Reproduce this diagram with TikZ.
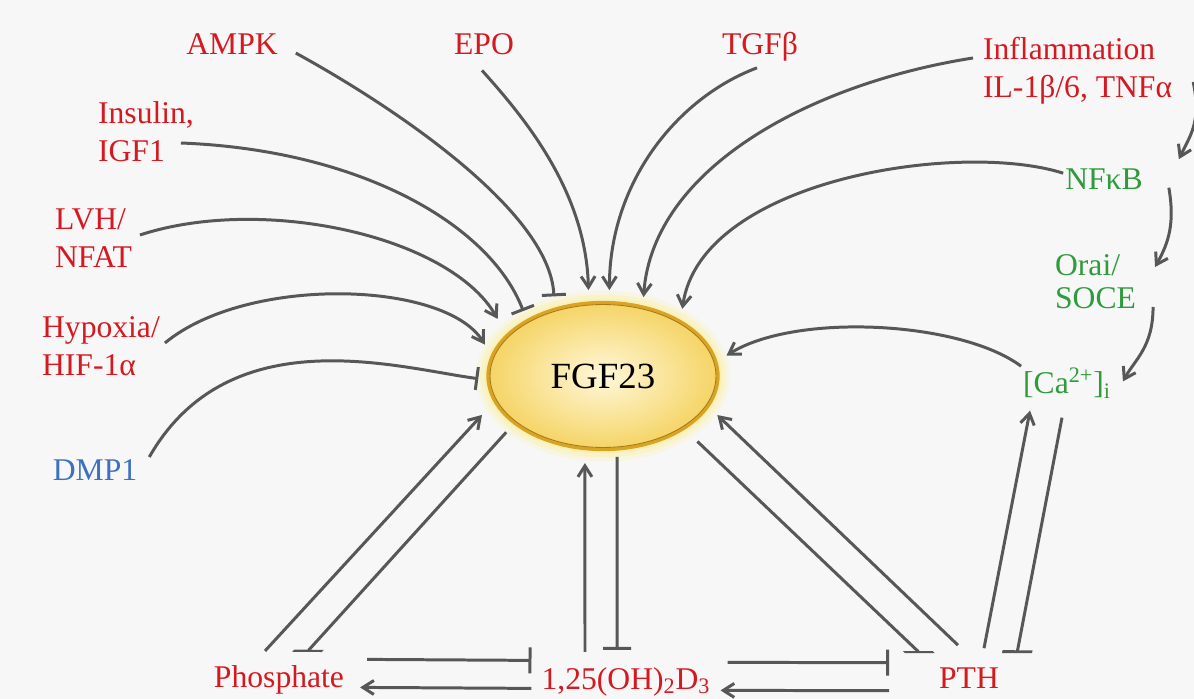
\documentclass[tikz,border=0pt]{standalone}
\usepackage{fontspec}
\setmainfont{Liberation Serif}
\usetikzlibrary{arrows.meta,shapes.geometric}
\definecolor{labred}{HTML}{D41920}
\definecolor{labgreen}{HTML}{2E9B3C}
\definecolor{labblue}{HTML}{3F6FBF}
\definecolor{wire}{HTML}{575757}
\definecolor{gold}{HTML}{D9A423}
\definecolor{ocher}{HTML}{A87A18}
\definecolor{fgfin}{HTML}{FFF8DA}
\definecolor{fgfout}{HTML}{F5D465}
\definecolor{glow}{HTML}{FFF08A}
\definecolor{paper}{HTML}{F7F7F7}
\begin{document}
\begin{tikzpicture}[x=0.02cm,y=-0.02cm,
  lab/.style={inner sep=1pt,font=\fontsize{18}{21.6}\selectfont},
  redlab/.style={lab,text=labred},
  greenlab/.style={lab,text=labgreen},
  bluelab/.style={lab,text=labblue},
  act/.style={wire,line width=1.7pt,-{Straight Barb[length=2.2mm,width=2.8mm]}},
  inh/.style={wire,line width=1.7pt,-{Bar[width=#1]}},
  inh/.default=4.8mm,
  hinh/.style 2 args={wire,line width=1.7pt,-{Bar[width=#1,slant=#2]}}]
  % pixel grid of the figure, y pointing down
  \fill[paper] (0,0) rectangle (1194,699);
  \useasboundingbox (0,0) rectangle (1194,699);
  % halo and FGF23
  \foreach \g/\o in {12/0.18,8/0.25,4/0.35}
    \fill[glow,opacity=\o] (603,376) ellipse [x radius=2.3cm+\g*0.02cm, y radius=1.47cm+\g*0.02cm];
  \node[ellipse,minimum width=4.6cm,minimum height=2.94cm,inner sep=0pt,outer sep=0pt,
    draw=gold,line width=1.9pt,inner color=fgfin,outer color=fgfout,
    font=\fontsize{21}{25}\selectfont] (fgf) at (603,376) {FGF23};
  \draw[ocher,line width=0.5pt] (fgf.center) ellipse [x radius=2.26cm, y radius=1.43cm];
  % labels
  \node[redlab,anchor=base] (ampk) at (232,55) {AMPK};
  \node[redlab,anchor=base] (epo) at (484,55) {EPO};
  \node[redlab,anchor=base] (tgfb) at (760,55) {TGFβ};
  \node[redlab,align=left,anchor=west] (infl) at (981,71) {Inflammation\\IL-1β/6, TNFα};
  \node[redlab,align=left,anchor=west] (ins) at (96,132) {Insulin,\\IGF1};
  \node[redlab,align=left,anchor=west] (lvh) at (53,238) {LVH/\\NFAT};
  \node[redlab,align=left,anchor=west] (hyp) at (40,346) {Hypoxia/\\HIF-1α};
  \node[bluelab,anchor=base] (dmp) at (95,480) {DMP1};
  \node[greenlab,anchor=base] (nfkb) at (1104,190) {NFκB};
  \node[greenlab,align=left,anchor=west] (orai) at (1053,282) {Orai/\\[-3pt]SOCE};
  \node[greenlab,anchor=base] (ca) at (1067,394) {[Ca\textsuperscript{2+}]\textsubscript{i}};
  \node[redlab,anchor=base] (phos) at (279,687) {Phosphate};
  \node[redlab,anchor=base] (d3) at (626,689) {1,25(OH)\textsubscript{2}D\textsubscript{3}};
  \node[redlab,anchor=base] (pth) at (969,688) {PTH};
  % inputs from the left and top
  \draw[inh,shorten >=0.26cm] ([shift={(16,8.5)}]ampk.east) .. controls +(95,52) and +(-5,-99) .. (fgf.126);
  \draw[inh,shorten >=0.21cm] ([shift={(-15,11)}]ins.east) .. controls +(180,7) and +(-37,-96) .. (fgf.144);
  \draw[act,shorten >=0.38cm] ([shift={(6,-3)}]lvh.east) .. controls +(122,-40) and +(-58,-100) .. (fgf.157);
  \draw[act,shorten >=0.28cm] ([shift={(3,-3)}]hyp.east) .. controls +(82,-68) and +(-47,-76) .. (fgf.170);
  \draw[inh=4.6mm,shorten >=0.2cm] ([shift={(10,0)}]dmp.north east) .. controls +(80,-140) and +(-90,-12) .. (fgf.182);
  \draw[act,shorten >=0.26cm] ([shift={(-2,13)}]epo.south) .. controls +(45,50) and +(-3,-110) .. (fgf.101);
  \draw[act,shorten >=0.25cm] ([shift={(-3,4)}]tgfb.south) .. controls +(-80,30) and +(0,-120) .. (fgf.85);
  \draw[act,shorten >=0.2cm] ([shift={(-8,-13)}]infl.west) .. controls +(-160,25) and +(10,-140) .. (fgf.60);
  \draw[act,shorten >=0.26cm] ([shift={(0,6)}]nfkb.north west) .. controls +(-104,-33) and +(20,-142) .. (fgf.35);
  % right hand cascade
  \draw[act] ([shift={(19,11)}]infl.east) .. controls +(8,40) and +(12,-25) .. ([shift={(34,-8)}]nfkb.north east);
  \draw[act] ([shift={(24,8)}]nfkb.east) .. controls +(6,35) and +(14,-25) .. ([shift={(17,-15)}]orai.east);
  \draw[act] ([shift={(15,25)}]orai.east) .. controls +(0,40) and +(12,-22) .. ([shift={(10,-2)}]ca.east);
  \draw[act,shorten >=0.25cm] (ca.north west) .. controls +(-60,-45) and +(80,-50) .. (fgf.7);
  % feedback loops at the bottom
  \draw[act,shorten >=0.38cm] ([shift={(-14,-12)}]phos.north) -- (fgf.193);
  \draw[hinh={4.4mm}{-0.9},shorten <=0.25cm] (fgf.208) -- ([shift={(28,-11)}]phos.north);
  \draw[act,shorten >=0.29cm] ([shift={(-41,-13)}]d3.north) -- (fgf.256);
  \draw[inh=5.6mm,shorten <=0.16cm] (fgf.281) -- ([shift={(-9,-15)}]d3.north);
  \draw[act,shorten >=0.26cm] ([shift={(-11,-20)}]pth.north) -- (fgf.344);
  \draw[hinh={4.1mm}{1.05},shorten <=0.38cm] (fgf.327) -- ([shift={(-49,-12)}]pth.north);
  \draw[act] ([shift={(15,-17)}]pth.north) -- ([shift={(-37,10)}]ca.south);
  \draw[hinh={5.9mm}{-0.19}] ([shift={(-5,17)}]ca.south) -- ([shift={(48,-12)}]pth.north);
  \draw[inh=5.2mm] ([shift={(21,-20)}]phos.east) -- ([shift={(-8,-21)}]d3.west);
  \draw[act] ([shift={(-8,7)}]d3.west) -- ([shift={(14,8)}]phos.east);
  \draw[inh=5.2mm] ([shift={(15,-19)}]d3.east) -- ([shift={(-48,-15)}]pth.west);
  \draw[act] ([shift={(-48,13)}]pth.west) -- ([shift={(8,9)}]d3.east);
\end{tikzpicture}
\end{document}
